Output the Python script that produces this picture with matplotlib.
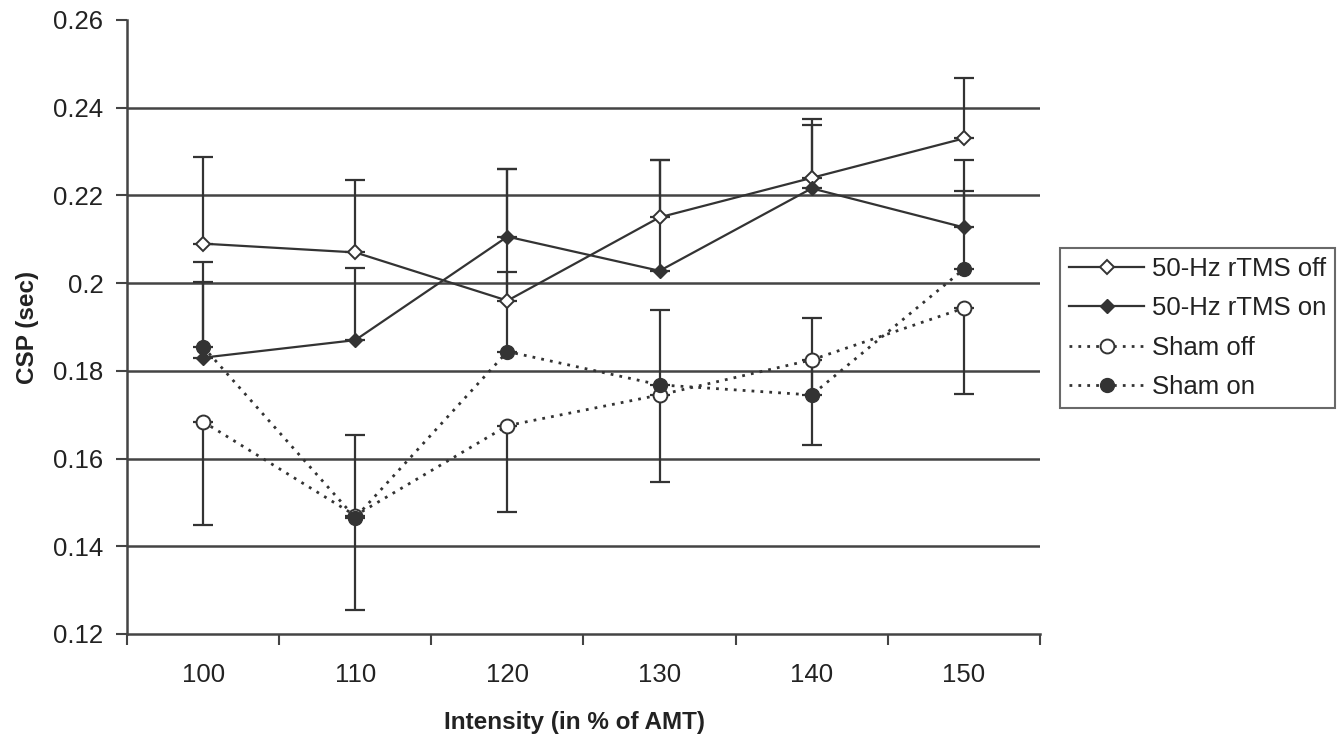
import matplotlib.pyplot as plt
import numpy as np

plt.rcParams['font.family'] = ['Liberation Sans', 'DejaVu Sans']

intensity = ['100', '110', '120', '130', '140', '150']

rtms_off = [0.209, 0.207, 0.196, 0.215, 0.224, 0.233]
rtms_off_err = [0.0198, 0.0165, 0.030, 0.013, 0.0135, 0.0137]

rtms_on = [0.183, 0.187, 0.2106, 0.2028, 0.2216, 0.2127]
rtms_on_err = [0.0219, 0.0164, 0.0154, 0.0253, 0.0145, 0.0154]

sham_off = [0.1684, 0.147, 0.1675, 0.1745, 0.1825, 0.1943]
sham_off_err = [0.0235, 0.0215, 0.0197, 0.0198, 0.0195, 0.0196]

sham_on = [0.1855, 0.1465, 0.1844, 0.1768, 0.1745, 0.2032]
sham_on_err = [0.0148, 0.0189, 0.0182, 0.0171, 0.0176, 0.0177]

x = np.arange(len(intensity))
ink = '#333333'

fig = plt.figure(figsize=(13.44, 7.37), dpi=100)
ax = fig.add_axes([0.0945, 0.1398, 0.6793, 0.8331])

for y in [0.14, 0.16, 0.18, 0.20, 0.22, 0.24]:
    ax.axhline(y, color='#444444', lw=1.8, zorder=1)

ebkw = dict(fmt='none', ecolor=ink, elinewidth=1.6, capsize=7, capthick=1.6, zorder=2)
ax.errorbar(x, rtms_off, yerr=[np.zeros(6), rtms_off_err], **ebkw)
ax.errorbar(x, rtms_on, yerr=[np.zeros(6), rtms_on_err], **ebkw)
ax.errorbar(x, sham_on, yerr=[np.zeros(6), sham_on_err], **ebkw)
ax.errorbar(x, sham_off, yerr=[sham_off_err, np.zeros(6)], **ebkw)

ax.plot(x, rtms_off, color=ink, lw=1.6, marker='D', ms=7.5, mfc='white', mec=ink, mew=1.4,
        label='50-Hz rTMS off', zorder=3)
ax.plot(x, rtms_on, color=ink, lw=1.6, marker='D', ms=7.5, mfc=ink, mec=ink,
        label='50-Hz rTMS on', zorder=3)
ax.plot(x, sham_off, color=ink, lw=2, ls=(0, (1, 2.2)), marker='o', ms=10, mfc='white', mec=ink,
        mew=1.4, label='Sham off', zorder=3)
ax.plot(x, sham_on, color=ink, lw=2, ls=(0, (1, 2.2)), marker='o', ms=10, mfc=ink, mec=ink,
        label='Sham on', zorder=3)

ax.set_xlim(-0.5, 5.5)
ax.set_ylim(0.12, 0.26)
ax.set_yticks([0.12, 0.14, 0.16, 0.18, 0.20, 0.22, 0.24, 0.26])
ax.set_yticklabels(['0.12', '0.14', '0.16', '0.18', '0.2', '0.22', '0.24', '0.26'])
ax.set_xticks(x)
ax.set_xticklabels(intensity)
ax.set_xticks(np.arange(-0.5, 6, 1), minor=True)
ax.tick_params(axis='x', which='major', length=0, pad=21, labelsize=18.5, labelcolor='#222222')
ax.tick_params(axis='x', which='minor', length=8, width=1.5, color='#444444')
ax.tick_params(axis='y', length=8, width=1.5, color='#444444', labelsize=18.5, pad=9,
               labelcolor='#222222')

for s in ['top', 'right']:
    ax.spines[s].set_visible(False)
for s in ['left', 'bottom']:
    ax.spines[s].set_color('#444444')
    ax.spines[s].set_linewidth(1.8)

ax.set_xlabel('Intensity (in % of AMT)', fontsize=17.5, fontweight='bold', color='#222222')
ax.xaxis.set_label_coords(0.49, -0.125)
ax.set_ylabel('CSP (sec)', fontsize=17.5, fontweight='bold', color='#222222')
ax.yaxis.set_label_coords(-0.096, 0.5)

leg = ax.legend(loc='center left', bbox_to_anchor=(0.789, 0.555), bbox_transform=fig.transFigure,
                fontsize=18.5, frameon=True, fancybox=False, edgecolor='#444444',
                handlelength=2.9, handletextpad=0.3, borderpad=0.35, labelspacing=0.6,
                borderaxespad=0)
leg.get_frame().set_linewidth(1.5)
for t in leg.get_texts():
    t.set_color('#222222')

plt.savefig('out.png', dpi=100)
